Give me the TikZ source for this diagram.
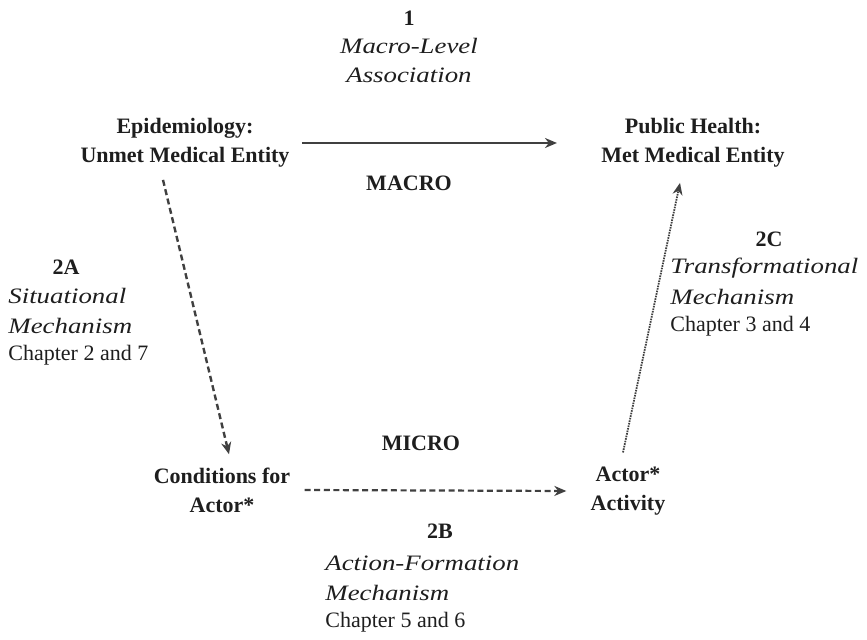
\documentclass[tikz,border=0pt]{standalone}
\usepackage{fontspec}
\setmainfont{Liberation Serif}
\newfontfamily\wideserif[FakeStretch=1.22]{Liberation Serif}
\usetikzlibrary{arrows.meta}
\definecolor{ink}{HTML}{1E1E1E}
\definecolor{linegray}{HTML}{404040}
\begin{document}
\begin{tikzpicture}[x=0.5pt,y=-0.5pt,
  every node/.style={inner sep=0pt,text=ink,font=\fontsize{11}{14.5}\selectfont},
  entity/.style={align=center,font=\fontsize{11}{14.5}\selectfont\bfseries},
  tag/.style={font=\fontsize{11}{14.5}\selectfont\bfseries},
  mech/.style={font=\fontsize{11}{14.5}\selectfont\wideserif\itshape},
  chap/.style={font=\fontsize{11}{14.5}\selectfont},
  link/.style={draw=linegray,line width=1.1pt,-{Stealth[length=6pt,width=5pt]}}]
\useasboundingbox (0,0) rectangle (867,640);

% macro level
\node[tag] (n1) at (409,18) {1};
\node[mech] (n1a) at (409,46) {Macro-Level};
\node[mech] (n1b) at (409,75) {Association};
\node[entity] (epi) at (185,143) {Epidemiology:\\Unmet Medical Entity};
\node[entity] (pub) at (693,143) {Public Health:\\Met Medical Entity};
\node[tag] (macro) at (409,183) {MACRO};

% situational mechanism
\node[tag] (n2a) at (66,267) {2A};
\node[mech,anchor=west] (n2a1) at (8,296) {Situational};
\node[mech,anchor=west] (n2a2) at (8,326) {Mechanism};
\node[chap,anchor=west] (n2a3) at (8,355) {Chapter 2 and 7};

% transformational mechanism
\node[tag] (n2c) at (769,239) {2C};
\node[mech,anchor=west] (n2c1) at (670,268) {Transformational};
\node[mech,anchor=west] (n2c2) at (670,297) {Mechanism};
\node[chap,anchor=west] (n2c3) at (670,326) {Chapter 3 and 4};

% micro level
\node[tag] (micro) at (421,443) {MICRO};
\node[entity] (cond) at (222,490) {Conditions for\\Actor*};
\node[entity] (act) at (628,491) {Actor*\\Activity};

% action-formation mechanism
\node[tag] (n2b) at (440,531) {2B};
\node[mech,anchor=west] (n2b1) at (325,563) {Action-Formation};
\node[mech,anchor=west] (n2b2) at (325,593) {Mechanism};
\node[chap,anchor=west] (n2b3) at (325,622) {Chapter 5 and 6};

% connectors
\draw[link] ([xshift=6pt]epi.east) -- ([xshift=-22pt]pub.west);
\draw[link,line width=1.2pt,dash pattern=on 3pt off 1.8pt] ([xshift=-11pt,yshift=-6pt]epi.south) -- ([xshift=3.5pt,yshift=6.5pt]cond.north);
\draw[link,dash pattern=on 3pt off 1.8pt] ([xshift=7pt]cond.east) -- ([xshift=-12pt]act.west);
\draw[link,line width=0.9pt,dash pattern=on 0.8pt off 0.5pt] ([xshift=-2.5pt,yshift=7pt]act.north) -- ([xshift=-6.5pt,yshift=-7.5pt]pub.south);
\end{tikzpicture}
\end{document}
